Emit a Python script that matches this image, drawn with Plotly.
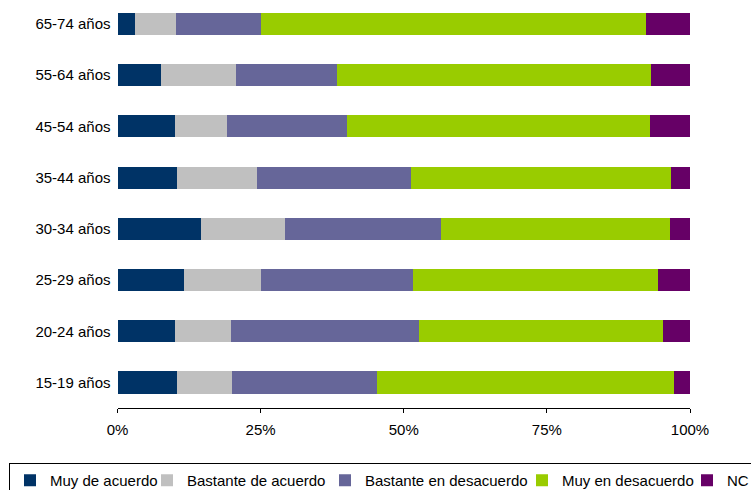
import plotly.graph_objects as go

W, H = 751, 490

categories = ["15-19 años", "20-24 años", "25-29 años", "30-34 años",
              "35-44 años", "45-54 años", "55-64 años", "65-74 años"]

muy_de_acuerdo = [10.4, 10.0, 11.6, 14.6, 10.4, 10.0, 7.6, 3.1]
bastante_de_acuerdo = [9.6, 9.8, 13.5, 14.7, 14.0, 9.1, 13.1, 7.1]
bastante_en_desacuerdo = [25.3, 32.9, 26.5, 27.2, 26.9, 21.0, 17.6, 14.9]
muy_en_desacuerdo = [51.9, 42.6, 42.8, 40.0, 45.4, 52.9, 54.9, 67.2]
nc = [2.8, 4.7, 5.6, 3.5, 3.3, 7.0, 6.8, 7.7]

series_names = ["Muy de acuerdo", "Bastante de acuerdo", "Bastante en desacuerdo",
                "Muy en desacuerdo", "NC"]
series_values = [muy_de_acuerdo, bastante_de_acuerdo, bastante_en_desacuerdo,
                 muy_en_desacuerdo, nc]
colors = ["#003366", "#C0C0C0", "#666699", "#99CC00", "#660066"]
legend_widths = [92, 133, 152, 120, 20]

x_ticks = [0, 25, 50, 75, 100]
x_tick_labels = ["0%", "25%", "50%", "75%", "100%"]

fig = go.Figure()
for name, vals, col, lw in zip(series_names, series_values, colors, legend_widths):
    fig.add_trace(go.Bar(
        y=categories, x=vals, name=name, orientation="h",
        marker=dict(color=col, line=dict(width=0)),
        legendwidth=lw,
    ))

font_family = "Liberation Sans, Arial, sans-serif"

fig.update_layout(
    width=W, height=H,
    barmode="stack",
    bargap=0.57,
    paper_bgcolor="white",
    plot_bgcolor="white",
    margin=dict(l=0, r=0, t=0, b=0, autoexpand=False),
    font=dict(family=font_family, size=15, color="#000000"),
    showlegend=True,
    legend=dict(
        orientation="h",
        x=9 / W, xanchor="left",
        y=(H - 463) / H, yanchor="top",
        bordercolor="#000000", borderwidth=1,
        bgcolor="white",
        font=dict(size=15, color="#000000"),
        itemwidth=30,
        traceorder="normal",
    ),
    xaxis=dict(
        domain=[117.5 / W, 690 / W],
        range=[0, 100],
        tickmode="array",
        tickvals=x_ticks,
        ticktext=x_tick_labels,
        showgrid=False,
        zeroline=False,
        showline=True, linecolor="#000000", linewidth=1,
        ticks="outside", ticklen=4, tickcolor="#000000",
        ticklabelstandoff=4,
        tickfont=dict(size=15),
    ),
    yaxis=dict(
        domain=[(H - 408.1) / H, 1.0],
        range=[-0.5, 7.469],
        showgrid=False, zeroline=False, showline=False,
        ticks="", ticklabelstandoff=6,
        tickfont=dict(size=15),
    ),
)

fig.write_html(
    "out.html",
    config={"displayModeBar": False},
    post_script="document.body.style.margin='0';document.body.style.overflow='hidden';",
)
